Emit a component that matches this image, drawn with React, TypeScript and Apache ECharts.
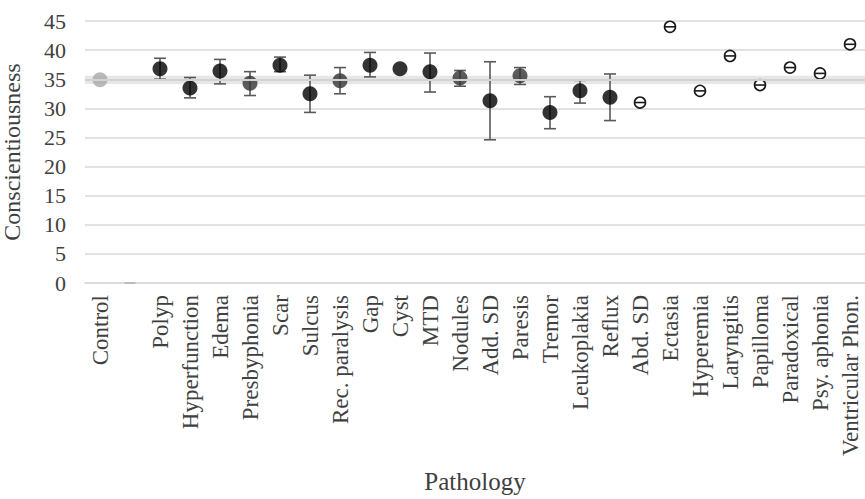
import React, { useEffect, useRef } from 'react';
import * as echarts from 'echarts';

const categories = [
  'Control', '', 'Polyp', 'Hyperfunction', 'Edema', 'Presbyphonia', 'Scar', 'Sulcus',
  'Rec. paralysis', 'Gap', 'Cyst', 'MTD', 'Nodules', 'Add. SD', 'Paresis', 'Tremor',
  'Leukoplakia', 'Reflux', 'Abd. SD', 'Ectasia', 'Hyperemia', 'Laryngitis', 'Papilloma',
  'Paradoxical', 'Psy. aphonia', 'Ventricular Phon.',
];
const means = [
  34.9, 0, 36.8, 33.5, 36.4, 34.3, 37.4, 32.5, 34.75, 37.4, 36.8, 36.3, 35.2, 31.3, 35.6,
  29.3, 33.0, 31.9, 31.0, 44.0, 33.0, 39.0, 34.0, 37.0, 36.0, 41.0,
];
const lowers: (number | null)[] = [
  null, null, 35.0, 31.8, 34.2, 32.2, 36.3, 29.3, 32.5, 35.4, null, 32.8, 33.8, 24.6, 34.1,
  26.5, 30.9, 27.9, null, null, null, null, null, null, null, null,
];
const uppers: (number | null)[] = [
  null, null, 38.6, 35.3, 38.4, 36.3, 38.8, 35.7, 37.0, 39.6, null, 39.5, 36.5, 38.0, 37.0,
  32.0, 34.8, 35.9, null, null, null, null, null, null, null, null,
];
// group kind per category: control / empty / black (filled) / dark (filled gray) / single (one subject)
const groups = [
  'control', 'empty', 'black', 'black', 'black', 'dark', 'black', 'black', 'dark', 'black',
  'black', 'black', 'dark', 'black', 'dark', 'black', 'black', 'black', 'single', 'single',
  'single', 'single', 'single', 'single', 'single', 'single',
];
const controlBand = [34.2, 35.6];
const yTicks = { min: 0, max: 45, interval: 5 };

const FONT = "'Liberation Serif', 'Times New Roman', serif";
const TEXT = '#404040';

export default function App() {
  const ref = useRef<HTMLDivElement>(null);
  useEffect(() => {
    if (!ref.current) return;
    const chart = echarts.init(ref.current, undefined, { renderer: 'svg' });

    const pts = (kind: string) =>
      means.map((m, i) => (groups[i] === kind ? [i, m] : null)).filter((d) => d !== null);

    const errData = means
      .map((_, i) => (lowers[i] != null && uppers[i] != null ? [i, lowers[i], uppers[i]] : null))
      .filter((d) => d !== null);

    chart.setOption({
      animation: false,
      textStyle: { fontFamily: FONT },
      grid: {
        left: 85,
        right: 0,
        top: 21,
        bottom: 216,
        containLabel: false,
        outerBoundsMode: 'none',
      },
      xAxis: {
        type: 'category',
        data: categories,
        boundaryGap: true,
        axisLine: { show: true, lineStyle: { color: '#d9d9d9', width: 1.5 } },
        axisTick: { show: false },
        axisLabel: {
          rotate: 90,
          interval: 0,
          margin: 12,
          fontFamily: FONT,
          fontSize: 23,
          color: TEXT,
        },
        name: 'Pathology',
        nameLocation: 'middle',
        nameGap: 186,
        nameTextStyle: { fontFamily: FONT, fontSize: 25, color: TEXT },
      },
      yAxis: {
        type: 'value',
        min: yTicks.min,
        max: yTicks.max,
        interval: yTicks.interval,
        axisLine: { show: false },
        axisTick: { show: false },
        splitLine: { lineStyle: { color: '#d9d9d9', width: 1.5 } },
        axisLabel: { fontFamily: FONT, fontSize: 22, color: TEXT, margin: 19 },
        name: 'Conscientiousness',
        nameLocation: 'middle',
        nameGap: 61,
        nameRotate: 90,
        nameTextStyle: { fontFamily: FONT, fontSize: 24, color: TEXT },
      },
      series: [
        {
          type: 'line',
          data: means.map((m, i) => [i, m]),
          showSymbol: false,
          symbol: 'none',
          lineStyle: { opacity: 0 },
          silent: true,
          z: 1,
          markArea: {
            silent: true,
            itemStyle: { color: '#e6e6e6' },
            data: [[{ yAxis: controlBand[0] }, { yAxis: controlBand[1] }]],
          },
          markLine: {
            silent: true,
            symbol: 'none',
            label: { show: false },
            lineStyle: { color: '#d2d2d2', width: 2, type: 'solid' },
            data: [{ yAxis: means[0] }],
          },
        },
        {
          type: 'custom',
          z: 3,
          data: errData,
          renderItem: (params: any, api: any) => {
            const x = api.value(0);
            const lo = api.coord([x, api.value(1)]);
            const hi = api.coord([x, api.value(2)]);
            const hw = 6;
            const style = { stroke: '#595959', lineWidth: 1.6 };
            return {
              type: 'group',
              children: [
                { type: 'line', shape: { x1: lo[0], y1: lo[1], x2: hi[0], y2: hi[1] }, style },
                { type: 'line', shape: { x1: lo[0] - hw, y1: lo[1], x2: lo[0] + hw, y2: lo[1] }, style },
                { type: 'line', shape: { x1: hi[0] - hw, y1: hi[1], x2: hi[0] + hw, y2: hi[1] }, style },
              ],
            };
          },
        },
        {
          type: 'scatter',
          z: 4,
          data: pts('black'),
          symbol: 'circle',
          symbolSize: 15,
          itemStyle: { color: '#000000' },
        },
        {
          type: 'scatter',
          z: 4,
          data: pts('dark'),
          symbol: 'circle',
          symbolSize: 15,
          itemStyle: { color: '#333333' },
        },
        {
          type: 'scatter',
          z: 4,
          data: pts('control'),
          symbol: 'circle',
          symbolSize: 15,
          itemStyle: { color: '#a9a9a9' },
        },
        {
          type: 'scatter',
          z: 4,
          data: pts('empty'),
          symbol: 'rect',
          symbolSize: [11, 2],
          itemStyle: { color: '#b3b3b3' },
        },
        {
          type: 'custom',
          z: 4,
          data: pts('single'),
          renderItem: (params: any, api: any) => {
            const c = api.coord([api.value(0), api.value(1)]);
            const r = 5.5;
            return {
              type: 'group',
              children: [
                {
                  type: 'circle',
                  shape: { cx: c[0], cy: c[1], r },
                  style: { fill: '#ffffff', stroke: '#1a1a1a', lineWidth: 1.6 },
                },
                {
                  type: 'line',
                  shape: { x1: c[0] - r, y1: c[1], x2: c[0] + r, y2: c[1] },
                  style: { stroke: '#1a1a1a', lineWidth: 1.6 },
                },
              ],
            };
          },
        },
      ],
    });
    return () => chart.dispose();
  }, []);

  return (
    <div
      ref={ref}
      style={{ position: 'absolute', left: 0, top: 0, width: 865, height: 499, background: '#ffffff' }}
    />
  );
}
